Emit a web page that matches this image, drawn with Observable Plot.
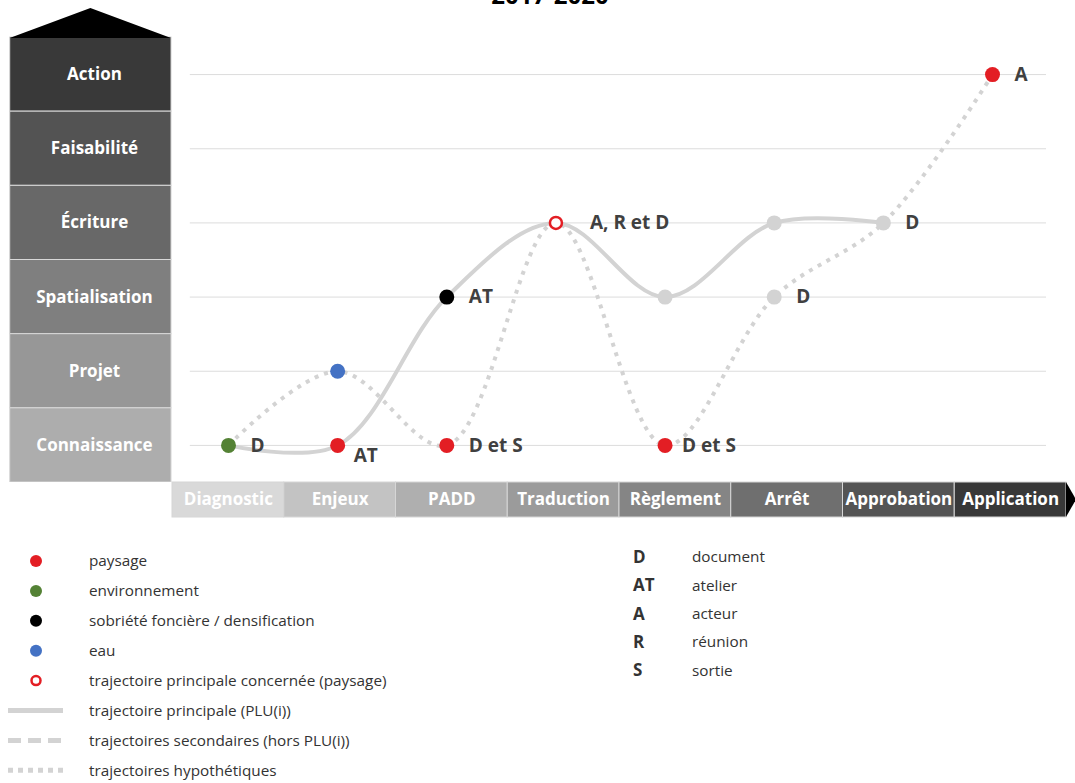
<!DOCTYPE html>
<html><head><meta charset="utf-8">
<script src="https://cdn.jsdelivr.net/npm/d3@7"></script>
<script src="https://cdn.jsdelivr.net/npm/@observablehq/plot@0.6"></script>
<style>
body{margin:0;background:#fff;}
#wrap{position:relative;width:1075px;height:783px;overflow:hidden;font-family:"Open Sans",sans-serif;}
#title{position:absolute;left:0;width:1100px;text-align:center;top:-22px;font:bold 24px "Open Sans";color:#000;}
#main{position:absolute;left:0;top:0;}
#band{position:absolute;left:0;top:481px;}
#legend{position:absolute;left:0;top:520px;}
</style></head><body>
<div id="wrap"><div id="title">2017-2020</div><div id="main"></div><div id="band"></div><div id="legend"></div></div>
<script>
// ---- data ----
const stages = ["Diagnostic","Enjeux","PADD","Traduction","Règlement","Arrêt","Approbation","Application"];
const levels = ["Action","Faisabilité","Écriture","Spatialisation","Projet","Connaissance"];
const levelColors = ["#393939","#535353","#686868","#7f7f7f","#979797","#adadad"];
const stageColors = ["#d9d9d9","#c3c3c3","#afafaf","#9b9b9b","#858585","#6f6f6f","#545454","#383838"];
const mainTrajectory = ["Connaissance","Connaissance","Spatialisation","Écriture","Spatialisation","Écriture","Écriture"];
const hypoTrajectory = ["Connaissance","Projet","Connaissance","Écriture","Connaissance","Spatialisation","Écriture","Action"];
const pointStage = ["Diagnostic","Enjeux","Enjeux","PADD","PADD","Traduction","Règlement","Règlement","Arrêt","Arrêt","Approbation","Application"];
const pointLevel = ["Connaissance","Connaissance","Projet","Spatialisation","Connaissance","Écriture","Spatialisation","Connaissance","Écriture","Spatialisation","Écriture","Action"];
const pointTheme = ["environnement","paysage","eau","sobriété","paysage","principale","aucun","paysage","aucun","aucun","aucun","paysage"];
const pointLabel = ["D","AT","","AT","D et S","A, R et D","","D et S","","D","D","A"];
const themeKeys = ["paysage","environnement","sobriété","eau","principale"];
const themeLabels = ["paysage","environnement","sobriété foncière / densification","eau","trajectoire principale concernée (paysage)"];
const themeColors = ["#e31e24","#548235","#000000","#4472c4","#e31e24"];
const lineLabels = ["trajectoire principale (PLU(i))","trajectoires secondaires (hors PLU(i))","trajectoires hypothétiques"];
const abbrev = ["D","AT","A","R","S"];
const abbrevLabels = ["document","atelier","acteur","réunion","sortie"];

// ---- derived tables ----
const xi = s => stages.indexOf(s);
const mainData = mainTrajectory.map((l,i)=>({x:i,y:l}));
const hypoData = hypoTrajectory.map((l,i)=>({x:i,y:l}));
const pts = pointStage.map((s,i)=>({x:xi(s), y:pointLevel[i], theme:pointTheme[i], label:pointLabel[i], i}));
const themeColor = t => t === "aucun" ? "#d3d3d3" : themeColors[themeKeys.indexOf(t)];
const lineGray = "#d3d3d3";
const labFont = "Open Sans";

function roof(index, scales) {
  const x0 = scales.x(-2.0), x1 = scales.x(-0.522), yb = scales.y(levels[0]);
  const p = document.createElementNS("http://www.w3.org/2000/svg","path");
  p.setAttribute("d", `M${x0},${yb+1}L${(x0+x1)/2},${yb-29}L${x1},${yb+1}Z`);
  p.setAttribute("fill","#000");
  return p;
}

const filled = pts.filter(d=>d.theme!=="principale");
const open = pts.filter(d=>d.theme==="principale");
const lab = (idx) => pts.filter(d=>idx.includes(d.i));
const labStyle = {x:"x", y:"y", text:"label", textAnchor:"start", fill:"#404040", fontWeight:"bold", fontSize:19, fontFamily:labFont};

const main = Plot.plot({
  width:1075, height:482, margin:0,
  style:{background:"transparent"},
  x:{type:"linear", domain:[0,7], range:[228,992], axis:null},
  y:{type:"band", domain:levels, range:[37,482], padding:0, round:false, axis:null},
  color:{type:"identity"},
  marks:[
    Plot.barX(levels, {y:d=>d, x1:()=>-2.0, x2:()=>-0.522, fill:(d,i)=>levelColors[i], stroke:"#d8d8d8", strokeWidth:1}),
    roof,
    Plot.text(levels, {y:d=>d, x:()=>-1.228, text:d=>d, fill:"white", fontWeight:"bold", fontSize:17, fontFamily:labFont}),
    Plot.ruleY(levels, {y:d=>d, x1:()=>-0.35, x2:()=>7.495, stroke:"#dcdcdc", strokeWidth:1}),
    Plot.line(hypoData, {x:"x", y:"y", curve:"catmull-rom", stroke:lineGray, strokeWidth:4, strokeDasharray:"4 6", strokeLinecap:"butt"}),
    Plot.line(mainData, {x:"x", y:"y", curve:"catmull-rom", stroke:lineGray, strokeWidth:4}),
    Plot.dot(filled, {x:"x", y:"y", r:7.5, fill:d=>themeColor(d.theme)}),
    Plot.dot(open, {x:"x", y:"y", r:6, fill:"white", stroke:themeColors[4], strokeWidth:2.5}),
    Plot.text(lab([0,3,4,9,10,11]), {...labStyle, dx:22}),
    Plot.text(lab([1]), {...labStyle, dx:16, dy:10}),
    Plot.text(lab([5]), {...labStyle, dx:34}),
    Plot.text(lab([7]), {...labStyle, dx:17})
  ]
});
document.getElementById("main").append(main);

function arrowTip(index, scales, values, dims) {
  const xe = dims.width - dims.marginRight, y0 = dims.marginTop, y1 = dims.height - dims.marginBottom;
  const p = document.createElementNS("http://www.w3.org/2000/svg","path");
  p.setAttribute("d", `M${xe},${y0}L${xe+10},${(y0+y1)/2}L${xe},${y1}Z`);
  p.setAttribute("fill","#000");
  return p;
}

const band = Plot.plot({
  width:1075, height:38, marginLeft:172, marginRight:9, marginTop:1, marginBottom:2,
  style:{background:"transparent"},
  x:{type:"band", domain:stages, padding:0, round:false, axis:null},
  color:{type:"identity"},
  marks:[
    Plot.cell(stages, {x:d=>d, fill:(d,i)=>stageColors[i], stroke:"#d6d6d6", strokeWidth:1, inset:0}),
    arrowTip,
    Plot.text(stages, {x:d=>d, text:d=>d, fill:"white", fontWeight:"bold", fontSize:17, frameAnchor:"middle", fontFamily:labFont})
  ]
});
document.getElementById("band").append(band);

// ---- legend ----
const svg = d3.create("svg").attr("width",1075).attr("height",263).style("font-family","'Open Sans'");
const rowY = i => 41 + 29.9*i;
const fs = 15.3;
themeKeys.forEach((k,i)=>{
  const cy = rowY(i);
  if (k === "principale") svg.append("circle").attr("cx",36).attr("cy",cy).attr("r",4.5).attr("fill","white").attr("stroke",themeColors[i]).attr("stroke-width",2.5);
  else svg.append("circle").attr("cx",36).attr("cy",cy).attr("r",6).attr("fill",themeColors[i]);
  svg.append("text").attr("x",89).attr("y",cy).attr("dy","0.35em").attr("font-size",fs).attr("fill","#333").text(themeLabels[i]);
});
const dashes = [null,"13 7","5 5"];
lineLabels.forEach((t,j)=>{
  const cy = rowY(5+j);
  const l = svg.append("line").attr("x1",8).attr("x2",63).attr("y1",cy).attr("y2",cy).attr("stroke",lineGray).attr("stroke-width",5);
  if (dashes[j]) l.attr("stroke-dasharray",dashes[j]);
  svg.append("text").attr("x",89).attr("y",cy).attr("dy","0.35em").attr("font-size",fs).attr("fill","#333").text(t);
});
abbrev.forEach((a,i)=>{
  const cy = 37 + 28.3*i;
  svg.append("text").attr("x",633).attr("y",cy).attr("dy","0.35em").attr("font-size",17).attr("font-weight","bold").attr("fill","#333").text(a);
  svg.append("text").attr("x",692).attr("y",cy).attr("dy","0.35em").attr("font-size",fs).attr("fill","#333").text(abbrevLabels[i]);
});
document.getElementById("legend").append(svg.node());
</script>
</body></html>
